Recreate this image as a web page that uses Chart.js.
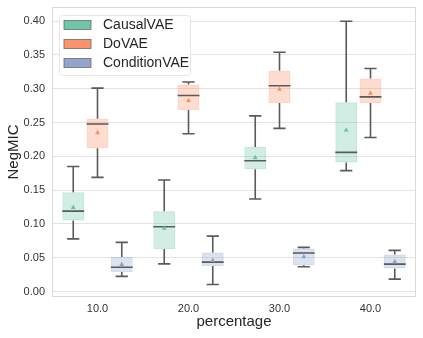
<!DOCTYPE html>
<html>
<head>
<meta charset="utf-8">
<script src="https://cdn.jsdelivr.net/npm/chart.js@4"></script>
<style>
html,body{margin:0;padding:0;background:#fff;}
#wrap{width:423px;height:338px;position:relative;}
</style>
</head>
<body>
<div id="wrap"><canvas id="c" width="423" height="338"></canvas></div>
<script>
const categories = ["10.0", "20.0", "30.0", "40.0"];
const seriesNames = ["CausalVAE", "DoVAE", "ConditionVAE"];
const seriesColors = ["#66c2a5", "#fc8d62", "#8da0cb"];
const yTicks = [0.00, 0.05, 0.10, 0.15, 0.20, 0.25, 0.30, 0.35, 0.40];

// per series, per category: [whiskerLow, q1, median, q3, whiskerHigh]
const causalBox = [
  [0.078, 0.105, 0.119, 0.147, 0.185],
  [0.041, 0.063, 0.096, 0.119, 0.165],
  [0.137, 0.181, 0.1935, 0.214, 0.260],
  [0.179, 0.191, 0.206, 0.280, 0.400]
];
const doBox = [
  [0.169, 0.212, 0.248, 0.2556, 0.301],
  [0.2334, 0.2685, 0.290, 0.3065, 0.310],
  [0.2414, 0.279, 0.3044, 0.3266, 0.354],
  [0.228, 0.279, 0.288, 0.3154, 0.330]
];
const conditionBox = [
  [0.0225, 0.029, 0.036, 0.051, 0.0728],
  [0.0106, 0.0377, 0.0436, 0.058, 0.082],
  [0.0367, 0.039, 0.057, 0.0639, 0.0654],
  [0.0185, 0.0343, 0.0407, 0.055, 0.061]
];
const causalMean = [0.125, 0.094, 0.1985, 0.2394];
const doMean = [0.2355, 0.283, 0.2996, 0.294];
const conditionMean = [0.0407, 0.0466, 0.052, 0.0447];

const boxes = [causalBox, doBox, conditionBox];
const means = [causalMean, doMean, conditionMean];

function rgba(hex, a){
  const n = parseInt(hex.slice(1),16);
  return `rgba(${(n>>16)&255},${(n>>8)&255},${n&255},${a})`;
}

const FONT = "'Liberation Sans', Arial, sans-serif";

const datasets = seriesNames.map((name, s) => ({
  label: name,
  data: boxes[s].map(b => [b[1], b[3]]),
  backgroundColor: rgba(seriesColors[s], 0.3),
  borderColor: rgba(seriesColors[s], 0.38),
  borderWidth: 1.5,
  borderSkipped: false,
  categoryPercentage: 0.8,
  barPercentage: 0.9
}));

const boxPlugin = {
  id: 'boxParts',
  afterDatasetsDraw(chart){
    const ctx = chart.ctx;
    const y = chart.scales.y;
    ctx.save();
    chart.data.datasets.forEach((ds, s) => {
      const meta = chart.getDatasetMeta(s);
      meta.data.forEach((bar, i) => {
        const b = boxes[s][i];
        const cx = bar.x;
        const w = bar.width;
        const pLo = y.getPixelForValue(b[0]);
        const pQ1 = y.getPixelForValue(b[1]);
        const pMed = y.getPixelForValue(b[2]);
        const pQ3 = y.getPixelForValue(b[3]);
        const pHi = y.getPixelForValue(b[4]);
        ctx.strokeStyle = '#5a5a5a';
        ctx.lineWidth = 1.6;
        ctx.beginPath();
        ctx.moveTo(cx, pQ3); ctx.lineTo(cx, pHi);
        ctx.moveTo(cx, pQ1); ctx.lineTo(cx, pLo);
        const cw = w * 0.28;
        ctx.moveTo(cx - cw, pHi); ctx.lineTo(cx + cw, pHi);
        ctx.moveTo(cx - cw, pLo); ctx.lineTo(cx + cw, pLo);
        ctx.moveTo(cx - w/2, pMed); ctx.lineTo(cx + w/2, pMed);
        ctx.stroke();
        // mean triangle
        const pm = y.getPixelForValue(means[s][i]);
        ctx.fillStyle = seriesColors[s];
        ctx.beginPath();
        ctx.moveTo(cx, pm - 2.6);
        ctx.lineTo(cx + 2.4, pm + 1.8);
        ctx.lineTo(cx - 2.4, pm + 1.8);
        ctx.closePath();
        ctx.fill();
      });
    });
    // plot border
    const a = chart.chartArea;
    ctx.strokeStyle = '#d9d9d9';
    ctx.lineWidth = 1;
    ctx.strokeRect(a.left + 0.5, a.top + 0.5, a.right - a.left - 1, a.bottom - a.top - 1);

    // legend
    const lx = a.left + 7, ly = a.top + 8, lw = 131, lh = 60;
    ctx.fillStyle = 'rgba(255,255,255,0.85)';
    ctx.strokeStyle = '#e6e6e6';
    ctx.lineWidth = 1;
    ctx.beginPath();
    if (ctx.roundRect) ctx.roundRect(lx + 0.5, ly + 0.5, lw, lh, 3); else ctx.rect(lx + 0.5, ly + 0.5, lw, lh);
    ctx.fill(); ctx.stroke();
    ctx.font = `14px ${FONT}`;
    ctx.textBaseline = 'middle';
    seriesNames.forEach((name, s) => {
      const yy = ly + 10 + s * 19;
      ctx.fillStyle = rgba(seriesColors[s], 0.95);
      ctx.fillRect(lx + 5, yy - 4.5, 27, 9);
      ctx.strokeStyle = '#6b6b6b';
      ctx.lineWidth = 0.8;
      ctx.strokeRect(lx + 5, yy - 4.5, 27, 9);
      ctx.fillStyle = '#262626';
      ctx.fillText(name, lx + 44, yy + 0.5);
    });
    ctx.restore();
  }
};

new Chart(document.getElementById('c'), {
  type: 'bar',
  data: { labels: categories, datasets },
  options: {
    responsive: false,
    animation: false,
    devicePixelRatio: 1,
    layout: { padding: { top: 7, right: 7, left: 0, bottom: 0 } },
    plugins: { legend: { display: false }, tooltip: { enabled: false } },
    scales: {
      x: {
        grid: { display: false, drawTicks: false },
        border: { display: false },
        ticks: { color: '#333', font: { family: FONT, size: 11 }, padding: 5 },
        title: { display: true, text: 'percentage', color: '#262626', font: { family: FONT, size: 15 }, padding: { top: 0, bottom: 7 } },
        afterFit(scale){ scale.height = 41; scale.paddingLeft = 0; scale.paddingRight = 0; }
      },
      y: {
        min: -0.008,
        max: 0.421,
        afterBuildTicks(scale){ scale.ticks = yTicks.map(v => ({ value: v })); },
        grid: { color: '#e3e3e3', lineWidth: 1, drawTicks: false },
        border: { display: false },
        ticks: { color: '#333', font: { family: FONT, size: 11 }, padding: 7, callback: v => Number(v).toFixed(2) },
        title: { display: true, text: 'NegMIC', color: '#262626', font: { family: FONT, size: 15 }, padding: { top: 5, bottom: 2 } },
        afterFit(scale){ scale.width = 52; scale.paddingTop = 0; scale.paddingBottom = 0; }
      }
    }
  },
  plugins: [boxPlugin]
});
</script>
</body>
</html>
